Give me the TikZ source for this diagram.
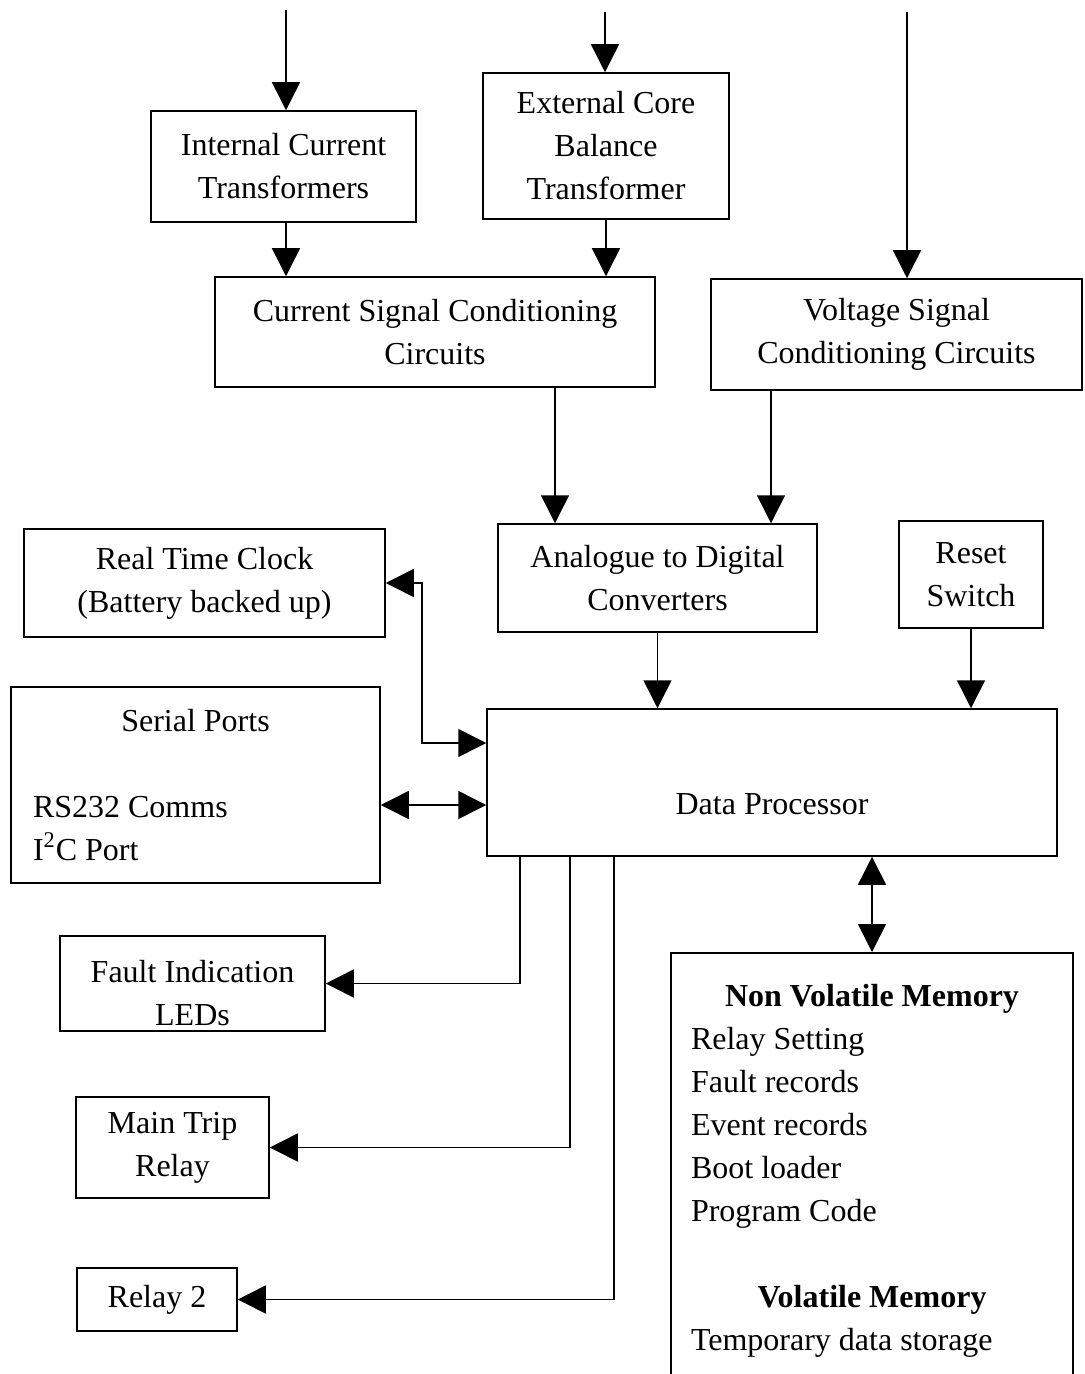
\documentclass[tikz,border=0pt]{standalone}
\usepackage{fontspec}
\setmainfont{Liberation Serif}
\usetikzlibrary{arrows.meta}

\tikzset{
  blk/.style={draw,line width=0.75pt,inner sep=0pt,align=center},
  arr/.style={line width=0.75pt,-{Triangle[length=14pt,width=14pt]}},
  darr/.style={line width=0.75pt,{Triangle[length=14pt,width=14pt]}-{Triangle[length=14pt,width=14pt]}},
}

\begin{document}
\begin{tikzpicture}[x=0.5pt,y=-0.5pt,font=\fontsize{16}{21.5}\selectfont]
\useasboundingbox (0,0) rectangle (1084,1374);
% incoming lines
\coordinate (in1) at (286,10);
\coordinate (in2) at (605,12);
\coordinate (in3) at (907,12);
% top row
\node[blk,minimum width=132.5pt,minimum height=55.5pt] (ict) at (283.5,166.5) {Internal Current\\Transformers};
\node[blk,minimum width=123pt,minimum height=73pt] (ecbt) at (606,146) {External Core\\Balance\\Transformer};
\node[blk,minimum width=220pt,minimum height=55pt] (csc) at (435,332) {Current Signal Conditioning\\Circuits};
\node[blk,minimum width=185.5pt,minimum height=55.5pt] (vsc) at (896.5,334.5) {Voltage Signal\\Conditioning Circuits};
% middle
\node[blk,minimum width=180.5pt,minimum height=54pt] (rtc) at (204.5,583) {Real Time Clock\\(Battery backed up)};
\node[blk,minimum width=159.5pt,minimum height=54pt] (adc) at (657.5,578) {Analogue to Digital\\Converters};
\node[blk,minimum width=72pt,minimum height=53.5pt] (rst) at (971,574.5) {Reset\\Switch};
\node[blk,align=left,inner xsep=11pt,text width=162.5pt,minimum height=98pt] (ser) at (195.5,785)
  {\spaceskip=0pt\xspaceskip=0pt\centering Serial Ports\par\vspace{21.5pt}\raggedright RS232 Comms\\I\textsuperscript{2}C Port};
\node[blk,minimum width=285pt,minimum height=73.5pt,label={[yshift=-11pt]center:Data Processor}] (dp) at (772,782.5) {};
% outputs
\node[blk,minimum width=132.5pt,minimum height=47.5pt,label={[yshift=-5pt,align=center]center:Fault Indication\\LEDs}] (fault) at (192.5,983.5) {};
\node[blk,minimum width=96.5pt,minimum height=50.5pt] (mtr) at (172.5,1147.5) {Main Trip\\Relay};
\node[blk,minimum width=80pt,minimum height=31.5pt] (r2) at (157,1299.5) {Relay 2};
\node[blk,anchor=north,align=left,inner xsep=10pt,text width=181pt,minimum height=218.5pt] (nvm) at (872,952)
  {\spaceskip=0pt\xspaceskip=0pt\centering\textbf{Non Volatile Memory}\par\raggedright Relay Setting\\Fault records\\Event records\\Boot loader\\Program Code\par
   \vspace{21.5pt}\centering\textbf{Volatile Memory}\par\raggedright Temporary data storage};
% connections
\draw[arr] (in1) -- (in1 |- ict.north);
\draw[arr] (in2) -- (in2 |- ecbt.north);
\draw[arr] (in3) -- (in3 |- vsc.north);
\draw[arr] (ict.south -| in1) -- (in1 |- csc.north);
\draw[arr] (ecbt) -- (ecbt |- csc.north);
\draw[arr] ([xshift=60pt]csc.south) -- ([xshift=60pt]csc.south |- adc.north);
\draw[arr] ([xshift=-62.75pt]vsc.south) -- ([xshift=-62.75pt]vsc.south |- adc.north);
\draw[arr] (adc) -- (adc |- dp.north);
\draw[arr] (rst) -- (rst |- dp.north);
\draw[darr] (rtc.east) -- ++(36,0) |- ([yshift=19.75pt]dp.west);
\draw[darr] ([yshift=-10pt]ser.east) -- ([yshift=-10pt]ser.east -| dp.west);
\draw[arr] ([xshift=-126pt]dp.south) |- (fault.east);
\draw[arr] ([xshift=-101pt]dp.south) |- (mtr.east);
\draw[arr] ([xshift=-79pt]dp.south) |- (r2.east);
\draw[darr] (nvm.north |- dp.south) -- (nvm.north);
\end{tikzpicture}
\end{document}
